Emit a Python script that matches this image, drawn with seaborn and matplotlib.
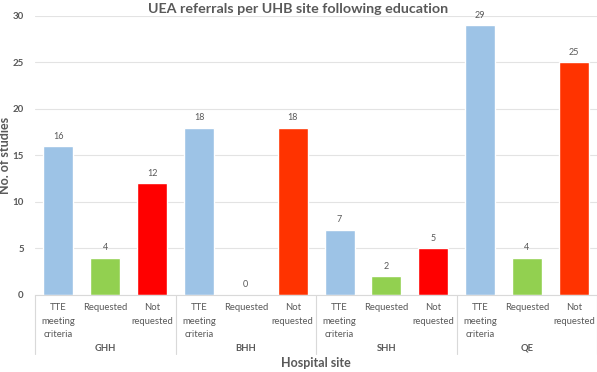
import pandas as pd
import matplotlib.pyplot as plt
import seaborn as sns

sites = ["GHH", "BHH", "SHH", "QE"]
categories = ["TTE\nmeeting\ncriteria", "Requested", "Not\nrequested"]
tte_counts = [16, 18, 7, 29]
requested_counts = [4, 0, 2, 4]
not_requested_counts = [12, 18, 5, 25]
bar_colors = ["#9DC3E6", "#92D050", "#FF0000",
              "#9DC3E6", "#92D050", "#FF3300",
              "#9DC3E6", "#92D050", "#FF0000",
              "#9DC3E6", "#92D050", "#FF3300"]

rows = []
for i, site in enumerate(sites):
    for cat, vals in zip(categories, [tte_counts, requested_counts, not_requested_counts]):
        rows.append({"Site": site, "Category": cat, "Count": vals[i],
                     "Slot": f"{site}-{cat}"})
df = pd.DataFrame(rows)

sns.set_style("white")
plt.rcParams["font.family"] = ["Lato", "DejaVu Sans"]
grey = "#595959"

fig = plt.figure(figsize=(5.97, 3.72), dpi=100)
ax = fig.add_axes([0.0586, 0.207, 0.942, 0.75])

sns.barplot(data=df, x="Slot", y="Count", hue="Slot", palette=bar_colors,
            legend=False, width=0.64, saturation=1, ax=ax)

for p, v in zip(ax.patches, df["Count"]):
    ax.text(p.get_x() + p.get_width() / 2, v + 0.6, str(v), ha="center",
            va="bottom", fontsize=6.5, color=grey)

ax.set_ylim(0, 30)
ax.set_xlim(-0.5, len(df) - 0.5)
ax.set_yticks(range(0, 31, 5))
ax.tick_params(axis="y", labelsize=7, colors=grey, length=0, pad=8)
for lbl in ax.get_yticklabels():
    lbl.set_fontweight("bold")
ax.set_xticks(range(len(df)))
ax.set_xticklabels(df["Category"], fontsize=6.8, color=grey, linespacing=1.6)
ax.tick_params(axis="x", length=0, pad=6)
ax.grid(True, axis="y", color="#E3E3E3", linewidth=0.8)
ax.set_axisbelow(True)
for s in ["top", "right", "left"]:
    ax.spines[s].set_visible(False)
ax.spines["bottom"].set_color("#D9D9D9")

trans = ax.get_xaxis_transform()
for k in range(len(sites) + 1):
    ax.plot([k * 3 - 0.5] * 2, [0, -0.21], transform=trans, color="#D9D9D9",
            linewidth=0.8, clip_on=False)
for k, site in enumerate(sites):
    ax.text(k * 3 + 1, -0.19, site, transform=trans, ha="center", va="center",
            fontsize=6.8, color=grey, fontweight="bold")

ax.set_xlabel("Hospital site", fontsize=9, fontweight="bold", color=grey)
ax.xaxis.set_label_coords(0.5, -0.222)
ax.set_ylabel("No. of studies", fontsize=9, fontweight="bold", color=grey)
ax.yaxis.set_label_coords(-0.042, 0.5)
fig.text(0.5, 0.975, "UEA referrals per UHB site following education", ha="center",
         va="center", fontsize=10.3, fontweight="bold", color=grey)

fig.savefig("out.png", dpi=100)
